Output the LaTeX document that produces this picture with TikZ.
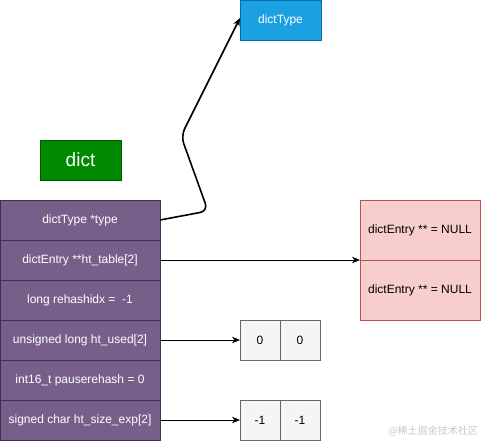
\documentclass[tikz,border=0pt]{standalone}
\usepackage{fontspec}
\setmainfont{Liberation Sans}
\newfontfamily\cjk{Noto Sans CJK SC}
\usetikzlibrary{arrows.meta}
\definecolor{purpfill}{HTML}{76608A}
\definecolor{purpline}{HTML}{432D57}
\definecolor{grnfill}{HTML}{008A00}
\definecolor{grnline}{HTML}{005700}
\definecolor{bluefill}{HTML}{1BA1E2}
\definecolor{blueline}{HTML}{006EAF}
\definecolor{pinkfill}{HTML}{F8CECC}
\definecolor{pinkline}{HTML}{B85450}
\definecolor{grayfill}{HTML}{F5F5F5}
\definecolor{grayline}{HTML}{666666}
\begin{document}
\begin{tikzpicture}[x=1pt,y=-1pt,
  box/.style={draw, line width=0.8pt, inner sep=0pt, outer sep=0pt, anchor=north west, font=\fontsize{12}{14}\selectfont},
  rowbox/.style={box, fill=purpfill, draw=purpline, text=white, minimum width=160pt, minimum height=40pt},
  pinkbox/.style={box, fill=pinkfill, draw=pinkline, minimum width=120pt, minimum height=60pt},
  cellbox/.style={box, fill=grayfill, draw=grayline, minimum width=40pt, minimum height=40pt},
  arr/.style={-{Stealth[length=8pt,width=6.5pt,inset=2.5pt]}, line width=0.8pt}
]
\useasboundingbox (0,0) rectangle (481,441);
% title boxes
\node[box, fill=grnfill, draw=grnline, text=white, minimum width=81pt, minimum height=40pt, font=\fontsize{19}{22}\selectfont] (dict) at (40,140) {dict};
\node[box, fill=bluefill, draw=blueline, text=white, minimum width=81pt, minimum height=40pt] (dtype) at (240,0) {dictType};
% struct rows
\node[rowbox] (r1) at (0,200) {dictType *type};
\node[rowbox] (r2) at (0,240) {dictEntry **ht\_table[2]};
\node[rowbox] (r3) at (0,280) {long rehashidx =\ \ -1};
\node[rowbox] (r4) at (0,320) {unsigned long ht\_used[2]};
\node[rowbox] (r5) at (0,360) {int16\_t pauserehash = 0};
\node[rowbox] (r6) at (0,400) {signed char ht\_size\_exp[2]};
% pink table
\node[pinkbox] (p1) at (360,200) {dictEntry ** = NULL};
\node[pinkbox] (p2) at (360,260) {dictEntry ** = NULL};
% cells
\node[cellbox] (u1) at (240,320) {0};
\node[cellbox] (u2) at (280,320) {0};
\node[cellbox] (s1) at (240,400) {-1};
\node[cellbox] (s2) at (280,400) {-1};
% connectors
\coordinate (c1) at (208,211);
\coordinate (c2) at (181,136);
\draw[arr, line width=1.6pt, rounded corners=8pt] (r1.east) -- (c1) -- (c2) -- ([yshift=2pt]dtype.west);
\draw[arr] (r2.east) -- (p2.north west);
\draw[arr] (r4.east) -- (u1.west);
\draw[arr] (r6.east) -- (s1.west);
% watermark
\node[anchor=east, text=black!22, font=\cjk\fontsize{10}{12}\selectfont, inner sep=0pt] (wm) at (478,431) {@稀土掘金技术社区};
\end{tikzpicture}
\end{document}
